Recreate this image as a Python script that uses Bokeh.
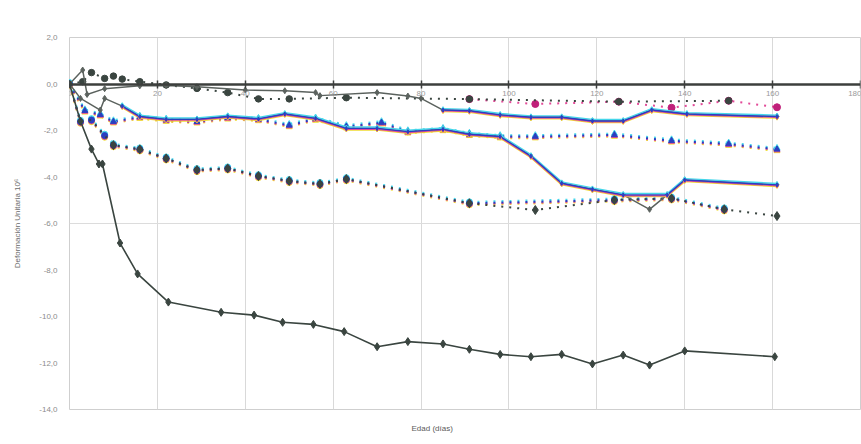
from bokeh.plotting import figure
from bokeh.models import Range1d, FixedTicker, Title
from bokeh.embed import file_html
from bokeh.resources import INLINE

# ---- axes ----
x_ticks = [0, 20, 40, 60, 80, 100, 120, 140, 160, 180]
y_ticks = [2, 0, -2, -4, -6, -8, -10, -12, -14]
y_tick_labels = ["2,0", "0,0", "-2,0", "-4,0", "-6,0", "-8,0", "-10,0", "-12,0", "-14,0"]

# ---- gauge A (lowest, solid) ----
a_days = [0, 2.5, 5, 6.7, 7.5, 11.5, 15.5, 22.5, 34.5, 42, 48.5, 55.5, 62.5, 70, 77, 85, 91, 98,
          105, 112, 119, 126, 132, 140, 160.5]
a_vals = [0, -1.6, -2.8, -3.44, -3.44, -6.84, -8.17, -9.38, -9.82, -9.94, -10.25, -10.34, -10.65,
          -11.3, -11.08, -11.18, -11.41, -11.63, -11.73, -11.63, -12.04, -11.66, -12.09, -11.48, -11.73]

# ---- gauge B (dotted, diamonds) ----
b_days = [0, 2.5, 5, 8, 10, 16, 22, 29, 36, 43, 50, 57, 63, 91, 106, 124, 137, 149, 161]
b_vals = [0, -1.62, -1.55, -2.22, -2.63, -2.81, -3.2, -3.7, -3.63, -3.96, -4.17, -4.3, -4.09,
          -5.13, -5.42, -4.99, -4.92, -5.39, -5.68]
b2_days = [0, 2.5, 5, 8, 10, 16, 22, 29, 36, 43, 50, 57, 63, 91, 124, 137, 149]
b2_vals = [0, -1.62, -1.55, -2.22, -2.63, -2.81, -3.2, -3.7, -3.63, -3.96, -4.17, -4.3, -4.09,
           -5.13, -4.99, -4.92, -5.39]

# ---- gauge C (dotted, triangles) ----
c_days = [0, 3.5, 7, 10, 16, 22, 29, 36, 43, 50, 56, 63, 71, 77, 85, 91, 98, 106, 124, 137, 150, 161]
c_vals = [0, -1.15, -1.32, -1.62, -1.42, -1.55, -1.62, -1.45, -1.52, -1.78, -1.5, -1.83, -1.66,
          -2.05, -1.95, -2.16, -2.26, -2.26, -2.19, -2.44, -2.58, -2.81]

# ---- gauge D (solid, drops after day 98) ----
d_days = [0, 2.5, 7, 8, 12, 16, 22, 29, 36, 43, 49, 56, 63, 70, 77, 85, 91, 98, 105, 112, 119,
          126, 132, 136, 140, 161]
d_vals = [0, -0.62, -1.12, -0.62, -0.95, -1.4, -1.52, -1.52, -1.4, -1.5, -1.29, -1.48, -1.91,
          -1.91, -2.05, -1.95, -2.16, -2.26, -3.1, -4.27, -4.53, -4.77, -5.39, -4.77, -4.13, -4.34]
d2_days = [12, 16, 22, 29, 36, 43, 49, 56, 63, 70, 77, 85, 91, 98, 105, 112, 119, 126, 136, 140, 161]
d2_vals = [-0.95, -1.4, -1.52, -1.52, -1.4, -1.5, -1.29, -1.48, -1.91, -1.91, -2.05, -1.95, -2.16,
           -2.26, -3.1, -4.27, -4.53, -4.77, -4.77, -4.13, -4.34]

# ---- gauge S (solid, near zero then -1,5) ----
s_days = [0, 3, 4, 8, 16, 22, 29, 40, 49, 56, 57, 70, 77, 80, 85, 91, 98, 105, 112, 119, 126,
          132.5, 140.5, 161]
s_vals = [0, 0.6, -0.45, -0.2, -0.08, -0.06, -0.12, -0.26, -0.29, -0.37, -0.5, -0.37, -0.52,
          -0.62, -1.12, -1.15, -1.33, -1.43, -1.43, -1.59, -1.59, -1.12, -1.29, -1.4]
s2_days = [85, 91, 98, 105, 112, 119, 126, 132.5, 140.5, 161]
s2_vals = [-1.12, -1.15, -1.33, -1.43, -1.43, -1.59, -1.59, -1.12, -1.29, -1.4]

# ---- gauge E (dotted, circles, above zero early) ----
e_days = [0, 3, 5, 8, 10, 12, 16, 22, 29, 36, 43, 50, 63, 91, 125, 150]
e_vals = [0, 0.1, 0.49, 0.24, 0.34, 0.21, 0.1, -0.04, -0.19, -0.37, -0.64, -0.64, -0.59, -0.65,
          -0.76, -0.72]
e2_days = [91, 106, 125, 137, 150, 161]
e2_vals = [-0.65, -0.86, -0.76, -1.02, -0.72, -1.0]

DARK = "#3a4540"
GREY = "#5b625e"
NAVY = "#2b3fc0"
MAGENTA = "#e24a98"
YELLOW = "#f0dc30"
CYAN = "#45d6ea"
FONT = "Liberation Sans"

X0, X1 = 0, 180
Y0, Y1 = -14, 2
p = figure(width=861, height=444, output_backend="svg", toolbar_location=None,
           x_range=Range1d(X0, X1), y_range=Range1d(Y0, Y1),
           min_border_left=69, min_border_right=1, min_border_top=37, min_border_bottom=35,
           background_fill_color="white", border_fill_color="white")
p.outline_line_color = "#cfcfcf"

# offset views used for the printed colour fringes of the coloured gauges
px = (Y1 - Y0) / 372.0
fringe = {"up": -1.4, "mid": 0.0, "lo1": 0.8, "lo2": 1.6}
for name, off in fringe.items():
    p.extra_y_ranges[name] = Range1d(Y0 + off * px, Y1 + off * px)

# grid
p.xgrid.ticker = FixedTicker(ticks=x_ticks[1:])
p.xgrid.grid_line_color = "#d9d9d9"
p.ygrid.ticker = FixedTicker(ticks=[-6])
p.ygrid.grid_line_color = "#dcdcdc"

# x axis drawn through y = 0
xa = p.xaxis[0]
xa.fixed_location = 0
xa.ticker = FixedTicker(ticks=x_ticks)
xa.axis_line_color = "#3c3f3d"
xa.axis_line_width = 2.5
xa.major_tick_line_color = "#3c3f3d"
xa.major_tick_line_width = 1.5
xa.major_tick_in = 4
xa.major_tick_out = 4
xa.minor_tick_line_color = None
xa.major_label_text_font = FONT
xa.major_label_text_font_size = "8px"
xa.major_label_text_color = "#9a9a9a"
xa.major_label_standoff = 3

ya = p.yaxis[0]
ya.ticker = FixedTicker(ticks=y_ticks)
ya.major_label_overrides = {t: s for t, s in zip(y_ticks, y_tick_labels)}
ya.axis_line_color = None
ya.major_tick_line_color = None
ya.minor_tick_line_color = None
ya.major_label_text_font = FONT
ya.major_label_text_font_size = "8px"
ya.major_label_text_color = "#8c8c8c"
ya.major_label_standoff = 6
ya.axis_label = "Deformación Unitaria 10⁶"
ya.axis_label_text_font = FONT
ya.axis_label_text_font_size = "8px"
ya.axis_label_text_font_style = "normal"
ya.axis_label_text_color = "#6a6a6a"
ya.axis_label_standoff = 14

# x-axis title under the chart box
p.add_layout(Title(text="Edad (días)", align="left", offset=342, standoff=24, text_font=FONT,
                   text_font_size="8px", text_font_style="normal", text_color="#5a5a5a"),
             "below")


def coloured(days, vals, dash="solid", width=1.4, marker=None, size=5):
    """Gauge printed in colour: yellow / magenta / cyan fringes around a navy line."""
    for col, rng in ((YELLOW, "lo2"), (MAGENTA, "lo1"), (CYAN, "up"), (NAVY, "mid")):
        p.line(days, vals, color=col, line_width=width, line_dash=dash, y_range_name=rng)
    if marker:
        for col, rng in ((YELLOW, "lo2"), (MAGENTA, "lo1"), (CYAN, "up"), (NAVY, "mid")):
            p.scatter(days, vals, marker=marker, size=size, color=col, y_range_name=rng)


DOT = "2 6"

# dotted upper gauge
p.line(e2_days, e2_vals, color=MAGENTA, line_width=2, line_dash=DOT)
p.scatter(e2_days, e2_vals, marker="circle", size=7, color="#c0207a")
p.line(e_days, e_vals, color=DARK, line_width=2, line_dash=DOT)
p.scatter(e_days, e_vals, marker="circle", size=6.5, color=DARK)

# dotted triangles
coloured(c_days, c_vals, dash=DOT, width=2, marker="triangle", size=6)

# dotted diamonds
coloured(b2_days, b2_vals, dash=DOT, width=2, marker="circle", size=6)
p.line(b_days, b_vals, color=DARK, line_width=2, line_dash=DOT)
p.scatter(b_days[4:], b_vals[4:], marker="diamond", size=9, color=DARK)

# solid gauges
p.line(d_days, d_vals, color=GREY, line_width=1.5)
p.scatter(d_days, d_vals, marker="diamond", size=6, color=GREY)
coloured(d2_days, d2_vals, width=1.4, marker="diamond", size=4)

p.line(s_days, s_vals, color=GREY, line_width=1.5)
p.scatter(s_days, s_vals, marker="diamond", size=6, color=GREY)
coloured(s2_days, s2_vals, width=1.4, marker="diamond", size=4)

p.line(a_days, a_vals, color=DARK, line_width=1.6)
p.scatter(a_days, a_vals, marker="diamond", size=8, color=DARK)

open("out.html", "w").write(file_html(p, INLINE))
